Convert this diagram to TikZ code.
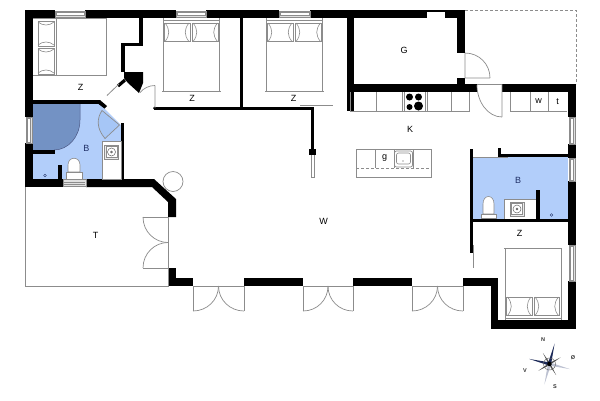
\documentclass[tikz,border=0pt]{standalone}
\usepackage{fontspec}
\setmainfont{Liberation Sans}
\definecolor{bathblue}{HTML}{B2CEFA}
\definecolor{showerblue}{HTML}{7392C4}
\definecolor{doorblue}{HTML}{A6C6F6}
\definecolor{lineg}{HTML}{8C8C8C}
\definecolor{labelblue}{HTML}{1F2F66}
\tikzset{
  wall/.style={fill=black,draw=none},
  thin line/.style={draw=lineg,line width=0.7pt},
  furn/.style={draw=lineg,line width=0.8pt,fill=white},
  win/.style={draw=lineg,line width=0.6pt,fill=white},
  room/.style={font=\fontsize{9}{10}\selectfont,text=black,inner sep=0pt},
  broom/.style={room,text=labelblue},
  comp/.style={font=\fontsize{5.5}{5.5}\selectfont\bfseries,text=black!80,inner sep=0pt},
}
\newcommand{\hwin}[3]{\draw[win,fill=black!12] (#1,#3+1) rectangle (#2,#3+7);\draw[lineg,line width=0.5pt,fill=white] (#1+1,#3+2.7) rectangle (#2-1,#3+5.3);}
\newcommand{\vwin}[3]{\draw[win,fill=black!12] (#3+1,#1) rectangle (#3+7,#2);\draw[lineg,line width=0.5pt,fill=white] (#3+2.7,#1+1) rectangle (#3+5.3,#2-1);}
\newcommand{\pillow}[4]{\draw[furn,fill=none,line width=0.6pt] (#1,#2) rectangle (#3,#4);
 \draw[lineg,line width=0.6pt] (#1+1,#2) .. controls (#1+6,#2+6) and (#1+6,#4-6) .. (#1+1,#4);
 \draw[lineg,line width=0.6pt] (#3-1,#2) .. controls (#3-6,#2+6) and (#3-6,#4-6) .. (#3-1,#4);}
\newcommand{\vpillow}[4]{\draw[furn,fill=none,line width=0.6pt] (#1,#2) rectangle (#3,#4);
 \draw[lineg,line width=0.6pt] (#1,#2+1) .. controls (#1+5,#2+5) and (#3-5,#2+5) .. (#3,#2+1);
 \draw[lineg,line width=0.6pt] (#1,#4-1) .. controls (#1+5,#4-5) and (#3-5,#4-5) .. (#3,#4-1);}
\newcommand{\basin}[2]{\draw[lineg,line width=0.5pt,fill=black!8] (#1-7,#2-7) rectangle (#1+7,#2+7);
 \draw[lineg,line width=0.5pt,fill=white] (#1-5.5,#2-5.5) rectangle (#1+5.5,#2+5.5);
 \draw[black!60,line width=0.5pt] (#1,#2) circle (4);\draw[black!60,fill=black!40] (#1,#2) circle (1);}
\newcommand{\dbl}[2]{\draw[thin line] (#1,286) -- (#2,286) (#1,286) -- (#1,311) (#2,286) -- (#2,311);
 \draw[thin line] (#1,311) .. controls (#1+14,311) and ({(#1+#2)/2},300) .. ({(#1+#2)/2},286);
 \draw[thin line] (#2,311) .. controls (#2-14,311) and ({(#1+#2)/2},300) .. ({(#1+#2)/2},286);}
\begin{document}
\begin{tikzpicture}[x=1pt,y=-1pt]
\useasboundingbox (0,0) rectangle (600,400);
\fill[white] (0,0) rectangle (600,400);
% blue floors
\fill[bathblue] (33,104) -- (100,104) -- (121,125) -- (121,179) -- (33,179) -- cycle;
\fill[bathblue] (473,157) -- (568,157) -- (568,219) -- (473,219) -- cycle;
% shower
\fill[showerblue] (33,104) -- (80,104) -- (80,120) .. controls (80,137) and (68,150) .. (54,150) -- (33,150) -- cycle;
\draw[labelblue!80,line width=0.5pt] (80,104) -- (80,120) .. controls (80,137) and (68,150) .. (54,150);
% beds
\draw[furn,fill=none] (33,18) -- (106,18) -- (106,75) -- (33,75);
\draw[furn,fill=none,line width=0.6pt] (56,18) -- (56,75);
\vpillow{38}{21}{54}{46}
\vpillow{38}{48}{54}{74}
\draw[furn,fill=none] (163.5,18) -- (163.5,91) (219.5,18) -- (219.5,91) (162,91) -- (221,91) (163.5,20) -- (219.5,20);
\pillow{164}{23}{190}{41.5}
\pillow{192}{23}{218.5}{41.5}
\draw[furn,fill=none] (266.5,18) -- (266.5,91) (322.5,18) -- (322.5,91) (265,91) -- (324,91) (266.5,20) -- (322.5,20);
\pillow{267}{23}{293}{41.5}
\pillow{295}{23}{321.5}{41.5}
\draw[furn,fill=none] (505,248) -- (505,320) (561,248) -- (561,320) (504,248) -- (562,248) (505,318) -- (561,318);
\pillow{506.5}{297}{532}{315.5}
\pillow{534}{297}{559.5}{315.5}
% outer walls
\fill[wall] (25,10) rectangle (33,117);
\fill[wall] (25,143) rectangle (33,186);
\fill[wall] (25,10) rectangle (55,18);
\fill[wall] (85,10) rectangle (176,18);
\fill[wall] (206,10) rectangle (279,18);
\fill[wall] (310,10) rectangle (465,18);
\fill[wall] (457,10) rectangle (465,53);
\fill[wall] (457,78) rectangle (465,92);
\fill[wall] (347,10) rectangle (354,111);
\fill[wall] (347,84) rectangle (477,92);
\fill[wall] (502,84) rectangle (576,92);
\fill[wall] (568,84) rectangle (576,117);
\fill[wall] (568,144) rectangle (576,158);
\fill[wall] (568,181) rectangle (576,245);
\fill[wall] (568,281) rectangle (576,329);
\fill[wall] (491,320) rectangle (576,329);
\fill[wall] (491,278) rectangle (498,329);
\fill[wall] (463,278) rectangle (498,286);
\fill[wall] (353,278) rectangle (412,286);
\fill[wall] (244,278) rectangle (303,286);
\fill[wall] (168,268) rectangle (176,286);
\fill[wall] (168,278) rectangle (193,286);
\fill[wall] (25,179) rectangle (63,186.5);
\fill[wall] (86,179) -- (154,179) -- (176,199) -- (176,217) -- (168,217) -- (168,202) -- (152,187) -- (86,187) -- cycle;
% inner walls
\fill[wall] (139,18) rectangle (143,46);
\fill[wall] (121,43) rectangle (143,46);
\fill[wall] (121,43) rectangle (124.5,72);
\fill[wall] (124,72) -- (143,72) -- (143,83) -- (139,93) -- (128,83) -- (124,78) -- cycle;
\draw[black,line width=3.2pt] (118,86) -- (125,80);
\draw[lineg,line width=0.8pt] (107,95.5) -- (119,84);
\fill[wall] (33,100) rectangle (100,104);
\fill[wall] (100,100) -- (107,106) -- (104.5,108.5) -- (98.5,104) -- cycle;
\fill[wall] (121,123) rectangle (124,179);
\fill[wall] (33,150) rectangle (54.5,154);
\fill[wall] (58,164.5) rectangle (61.5,180);
\fill[wall] (154,106.5) rectangle (314,109.5);
\fill[wall] (154.5,108) circle (1.5);
\fill[wall] (240,18) rectangle (243,108);
\fill[wall] (311,107) rectangle (314,150);
\fill[wall] (309,149) rectangle (315.5,155);
\draw[thin line] (311,155) -- (311,177) -- (314,177) -- (314,155);
\draw[thin line] (300,105.7) -- (333,105.7);
\fill[wall] (470,149) rectangle (473,253);
\draw[thin line] (473,245) -- (473,268);
\fill[wall] (498,148) rectangle (501,157);
\fill[wall] (498,154) rectangle (568,157);
\draw[thin line] (473,157) -- (508,157);
\fill[wall] (470,219) rectangle (568,222);
\fill[wall] (536,190) rectangle (539.5,219);
% windows
\hwin{55}{85}{10}
\hwin{176}{206}{10}
\hwin{279}{310}{10}
\vwin{117}{143.5}{25}
\vwin{117}{144}{568}
\vwin{158}{181}{568}
\vwin{245}{281}{568}
\fill[white] (427,12) rectangle (445,18);
% terrace
\draw[lineg,line width=0.7pt] (25,187) -- (25,286) -- (168,286) -- (168,268);
\draw[lineg,line width=0.7pt] (168,217) -- (168,268);
% carport dashed
\draw[lineg,line width=0.6pt,dash pattern=on 3pt off 2pt] (465,10) -- (576,10) -- (576,84);
% doors
\draw[thin line] (143,217) -- (168,217);
\draw[thin line] (143,268) -- (168,268);
\draw[thin line] (143,217) .. controls (143,232) and (155,242.5) .. (168,242.5);
\draw[thin line] (143,268) .. controls (143,253) and (155,242.5) .. (168,242.5);
\dbl{193}{244}
\dbl{303}{353}
\dbl{412}{463}
\draw[thin line] (465,53) -- (465,78) -- (490,78) (465,53) .. controls (479,53) and (490,64) .. (490,78);
\draw[thin line] (477,84.5) -- (502,84.5) -- (502,117) (477,85) .. controls (477,102) and (488,117) .. (502,117);
\draw[thin line] (155,108) -- (155,85.5) (155,85.5) .. controls (149,85.5) and (144,88) .. (140,92.5);
\draw[thin line,fill=doorblue] (119.5,125) -- (105,138.5) .. controls (96,128) and (97,118) .. (102,110.5) -- cycle;
% kitchen
\draw[furn,fill=none,line width=0.7pt] (350,92) -- (350,111) -- (469.5,111) -- (469.5,92);
\draw[furn,fill=none,line width=0.7pt] (376,92) -- (376,111) (402,92) -- (402,111) (427,92) -- (427,111) (451,92) -- (451,111) (404,92) -- (404,111) (425,92) -- (425,111);
\fill[black] (409.5,97) circle (3.5) (418.5,97) circle (3.5) (409.5,107) circle (3) (418.5,106) circle (4.5);
\draw[furn,fill=none,line width=0.7pt] (510.5,92) -- (510.5,111) -- (567,111);
\draw[furn,fill=none,line width=0.7pt] (530,92) -- (530,111) (548.5,92) -- (548.5,111);
% island
\draw[furn,fill=none,line width=0.7pt] (356,149) rectangle (431.5,177);
\draw[furn,fill=none,line width=0.7pt] (375,149) -- (375,168) (413,149) -- (413,168) (394,149) -- (394,168);
\draw[lineg,line width=0.6pt,dash pattern=on 3pt off 2pt] (356,168) -- (431.5,168);
\draw[lineg,line width=0.7pt,rounded corners=2pt] (394.5,151) rectangle (412.5,167);
\draw[lineg,line width=0.6pt,rounded corners=2pt] (396.5,153) rectangle (410.5,164);
\fill[black!70] (403,161) circle (0.6);
% left bath fixtures
\fill[white] (102,141) rectangle (121,179);
\draw[lineg,line width=0.5pt] (102,141) rectangle (121,179);
\basin{111.5}{152}
\draw[furn,fill=white,line width=0.6pt] (68,172) -- (68,165) .. controls (68,156) and (80,156) .. (80,165) -- (80,172) -- cycle;
\draw[furn,line width=0.6pt] (66,172) rectangle (82,179);
\draw[win,fill=black!12] (63,179) rectangle (86,186);
\draw[lineg,line width=0.4pt] (64,182) -- (85,182) (64,184) -- (85,184);
\draw[labelblue,line width=0.4pt] (45,175.5) circle (1.4);
% right bath fixtures
\fill[white] (504,199.5) rectangle (536,218.5);
\draw[lineg,line width=0.4pt] (504,199.5) -- (536,199.5) (504,199.5) -- (504,218.5);
\basin{517}{209}
\draw[furn,fill=white,line width=0.6pt] (483,214) -- (483,204) .. controls (483,194) and (494,194) .. (494,204) -- (494,214) -- cycle;
\draw[furn,line width=0.6pt] (481,214) rectangle (496,218.5);
\draw[labelblue,line width=0.4pt] (551.5,215) circle (1.4);
% pillar circle
\draw[lineg,line width=0.7pt,fill=white] (173,181.5) circle (10);
% labels
\node[room] (z1) at (80.5,87) {Z};
\node[room] (z2) at (192,98.5) {Z};
\node[room] (z3) at (293.5,98.5) {Z};
\node[room] (zg) at (404,50.5) {G};
\node[room] (zk) at (410,129.5) {K};
\node[room] (zg2) at (384.5,158) {g};
\node[room] (zw) at (538.5,101.5) {w};
\node[room] (zt) at (557.5,101.5) {t};
\node[room] (zW) at (323.5,221) {W};
\node[room] (zT) at (95.5,235) {T};
\node[room] (z4) at (519.5,233.5) {Z};
\node[broom] (b1) at (86.5,148) {B};
\node[broom] (b2) at (518,180.5) {B};
% compass
\begin{scope}[shift={(549.5,364)},rotate=-14]
 \foreach \a in {45,135,225,315} {
  \begin{scope}[rotate=\a]
   \fill[black!70] (0,-1) -- (13,0) -- (0,1) -- cycle;
  \end{scope}}
 \fill[labelblue!85!black] (0,-1.6) -- (-21,0) -- (0,1.6) -- cycle;
 \fill[labelblue!30] (-1.6,0) -- (0,21) -- (1.6,0) -- cycle;
 \fill[labelblue!85!black] (-1.6,0) -- (0,-21) -- (1.6,0) -- cycle;
 \fill[labelblue!30] (0,-1.6) -- (21,0) -- (0,1.6) -- cycle;
 \draw[black!60,line width=0.5pt] (0,0) circle (6);
 \fill[black] (0,0) circle (2.3);
\end{scope}
\node[comp] (cn) at (543,340) {N};
\node[comp] (ce) at (573,358) {Ø};
\node[comp] (cs) at (555,387) {S};
\node[comp] (cv) at (525,371) {V};
\end{tikzpicture}
\end{document}
